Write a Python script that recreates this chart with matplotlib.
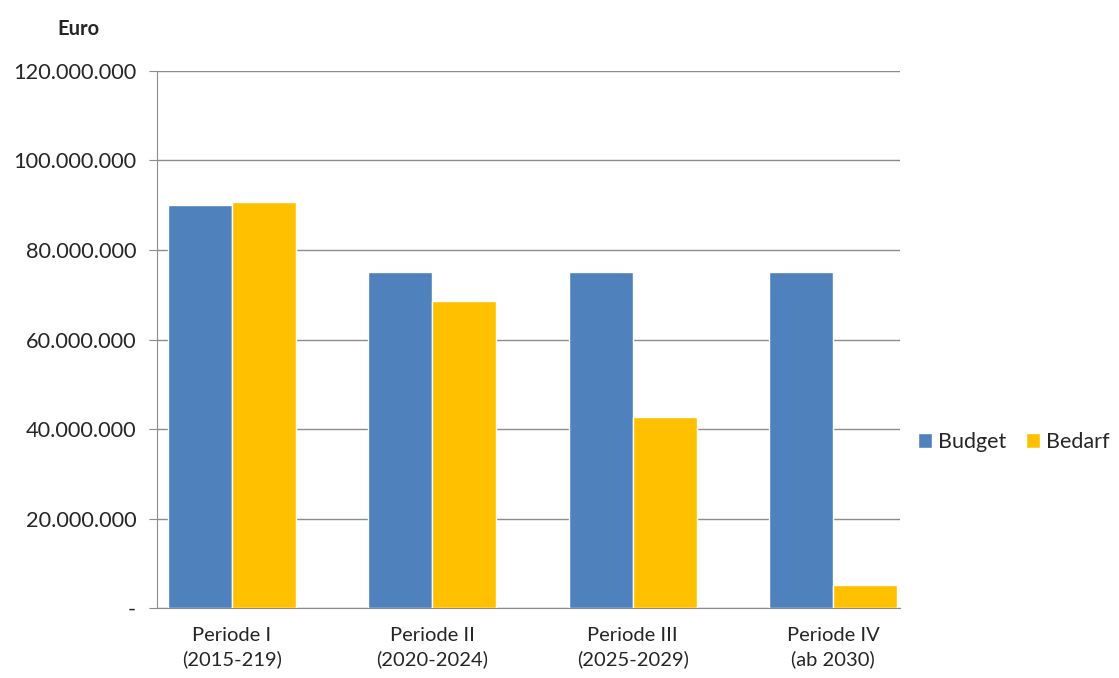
import matplotlib
matplotlib.use("Agg")
import matplotlib.pyplot as plt
import numpy as np
from matplotlib.ticker import FuncFormatter

BLUE = "#4F81BD"
GOLD = "#FFC000"
GRID = "#8c8c8c"
TEXT = "#262626"

periods = ["Periode I\n(2015-219)", "Periode II\n(2020-2024)",
           "Periode III\n(2025-2029)", "Periode IV\n(ab 2030)"]
budget = [90_000_000, 75_000_000, 75_000_000, 75_000_000]
bedarf = [90_800_000, 68_700_000, 42_600_000, 5_100_000]

plt.rcParams.update({
    "font.family": ["Lato", "DejaVu Sans"],
    "text.color": TEXT,
    "xtick.color": TEXT,
    "ytick.color": TEXT,
})


def euro(v, _):
    if v == 0:
        return "-"
    return f"{int(v):,}".replace(",", ".")


fig = plt.figure(figsize=(11.19, 6.78), dpi=100)
ax = fig.add_axes([0.1403, 0.1032, 0.664, 0.7921])

x = np.arange(len(periods))
w = 0.32
ax.bar(x - w / 2, budget, w, color=BLUE, edgecolor="white", linewidth=1, label="Budget", zorder=3)
ax.bar(x + w / 2, bedarf, w, color=GOLD, edgecolor="white", linewidth=1, label="Bedarf", zorder=3)

# groups sit slightly left of centre, as in the original layout
ax.set_xlim(-0.374, len(periods) - 1 + 0.334)
ax.set_ylim(0, 120_000_000)
ax.set_yticks(np.arange(0, 120_000_001, 20_000_000))
ax.yaxis.set_major_formatter(FuncFormatter(euro))
ax.set_xticks(x)
ax.set_xticklabels(periods, fontsize=14.5, linespacing=1.4)
ax.tick_params(axis="x", length=0, pad=14)
ax.tick_params(axis="y", length=6, color=GRID, labelsize=15.7, pad=9)

ax.grid(axis="y", color=GRID, linewidth=1, zorder=0)
for side in ["top", "right"]:
    ax.spines[side].set_visible(False)
ax.spines["left"].set_color(GRID)
ax.spines["bottom"].set_color(GRID)

fig.text(0.07, 0.957, "Euro", fontsize=14.5, fontweight="bold", ha="center", va="center")

fig.legend(loc="center left", bbox_to_anchor=(0.803, 0.348), ncol=2, frameon=False,
           fontsize=15.5, handlelength=0.65, handleheight=0.65, handletextpad=0.3,
           columnspacing=0.9)

fig.savefig("out.png", dpi=100, facecolor="white")
